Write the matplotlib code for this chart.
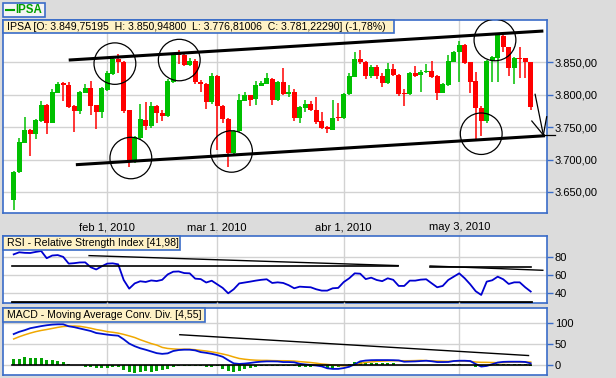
import matplotlib
matplotlib.use("Agg")
import matplotlib.pyplot as plt
from matplotlib.patches import Ellipse, Rectangle
from matplotlib.ticker import FuncFormatter
import pandas as pd

plt.rcParams['font.family'] = ['Liberation Sans', 'DejaVu Sans']

W, H = 616, 378
BG = "#dcdcdc"
BLUE = "#3a6cc8"
GRID = "#d2d2d2"
LABEL_BG = "#fff2c6"

# trading days jan 7 - may 20 2010 (good friday closed)
dates = pd.bdate_range("2010-01-07", "2010-05-20", freq="C", holidays=["2010-04-02"])

opens = [3637.6, 3680.0, 3726.0, 3745.6, 3739.4, 3760.0, 3784.0, 3757.0, 3803.0, 3817.6,
         3815.0, 3782.6, 3775.0, 3803.0, 3810.4, 3783.6, 3773.9, 3808.0, 3832.5, 3855.0,
         3851.0, 3776.4, 3696.7, 3733.7, 3761.0, 3752.3, 3782.6, 3771.3, 3767.7, 3820.0,
         3862.0, 3860.8, 3845.4, 3852.0, 3820.0, 3816.6, 3788.3, 3829.4, 3783.0, 3762.0,
         3709.6, 3744.0, 3790.8, 3799.0, 3793.0, 3814.0, 3816.6, 3825.0, 3791.9, 3820.2,
         3800.6, 3804.7, 3764.6, 3780.0, 3785.7, 3776.4, 3759.5, 3750.0, 3746.0, 3764.6,
         3763.5, 3801.0, 3828.0, 3855.0, 3850.0, 3829.4, 3842.8, 3829.0, 3817.6, 3839.2,
         3830.5, 3803.0, 3800.5, 3833.0, 3830.4, 3834.5, 3836.5, 3828.8, 3803.0, 3815.0,
         3851.0, 3865.5, 3877.0, 3850.0, 3821.0, 3780.0, 3759.0, 3852.6, 3857.0, 3891.0,
         3873.0, 3840.7, 3857.0, 3856.0, 3849.75]
highs = [3683.0, 3732.7, 3765.0, 3746.5, 3762.0, 3790.3, 3785.0, 3808.3, 3820.0, 3819.0,
         3820.0, 3784.0, 3806.0, 3816.0, 3821.2, 3784.5, 3812.0, 3836.0, 3859.8, 3862.9,
         3852.0, 3777.0, 3737.0, 3785.7, 3789.3, 3789.0, 3784.0, 3777.0, 3823.8, 3863.0,
         3869.0, 3864.0, 3857.0, 3854.6, 3822.0, 3818.0, 3834.0, 3830.0, 3784.0, 3764.0,
         3746.0, 3800.6, 3804.7, 3800.0, 3821.7, 3821.7, 3833.0, 3826.0, 3821.0, 3841.8,
         3815.0, 3808.3, 3783.0, 3791.9, 3791.0, 3797.0, 3773.9, 3752.0, 3791.9, 3787.8,
         3803.0, 3834.0, 3866.5, 3869.0, 3852.0, 3846.4, 3846.0, 3833.0, 3848.5, 3848.0,
         3832.0, 3808.6, 3834.5, 3844.8, 3838.0, 3847.0, 3852.0, 3830.0, 3818.0, 3861.4,
         3867.6, 3883.0, 3877.5, 3850.5, 3834.5, 3782.0, 3854.0, 3860.0, 3893.0, 3892.0,
         3874.0, 3858.0, 3873.0, 3857.0, 3850.95]
lows = [3622.0, 3679.0, 3725.0, 3706.0, 3732.2, 3758.0, 3739.4, 3756.0, 3802.0, 3790.8,
        3779.0, 3743.0, 3771.0, 3802.0, 3768.0, 3746.6, 3763.6, 3806.0, 3830.0, 3833.0,
        3772.3, 3689.0, 3694.0, 3732.0, 3745.6, 3748.0, 3757.0, 3760.0, 3766.0, 3818.0,
        3847.0, 3845.0, 3845.0, 3816.6, 3804.7, 3778.0, 3786.0, 3714.7, 3757.0, 3689.0,
        3708.0, 3743.0, 3790.0, 3782.6, 3784.0, 3813.0, 3816.0, 3784.0, 3790.0, 3800.0,
        3797.0, 3760.0, 3757.0, 3774.0, 3775.0, 3754.8, 3747.0, 3741.5, 3745.0, 3760.0,
        3762.0, 3800.0, 3827.0, 3847.0, 3825.0, 3826.0, 3824.0, 3812.4, 3816.0, 3829.0,
        3798.6, 3782.8, 3799.0, 3828.0, 3803.5, 3834.0, 3826.0, 3792.6, 3802.0, 3814.0,
        3850.0, 3820.0, 3848.0, 3803.0, 3732.0, 3736.0, 3757.0, 3820.0, 3820.0, 3866.5,
        3828.8, 3816.0, 3826.0, 3826.0, 3776.81]
closes = [3680.2, 3726.5, 3745.6, 3739.4, 3761.0, 3784.0, 3757.0, 3804.2, 3816.6, 3815.0,
          3781.6, 3775.4, 3804.7, 3810.4, 3782.6, 3773.9, 3809.9, 3833.0, 3854.6, 3851.0,
          3775.4, 3696.7, 3735.3, 3762.0, 3752.3, 3782.6, 3771.3, 3767.7, 3821.7, 3860.8,
          3860.8, 3845.4, 3852.0, 3820.2, 3816.0, 3788.3, 3829.4, 3783.0, 3762.0, 3709.6,
          3744.0, 3791.9, 3799.0, 3792.0, 3815.0, 3818.6, 3825.3, 3791.9, 3820.2, 3800.6,
          3804.7, 3764.6, 3781.6, 3785.7, 3776.4, 3758.4, 3749.2, 3746.6, 3764.6, 3763.5,
          3801.0, 3829.0, 3855.0, 3850.0, 3829.4, 3842.8, 3829.0, 3817.6, 3839.2, 3830.5,
          3801.0, 3800.5, 3833.0, 3829.3, 3835.5, 3836.5, 3827.8, 3803.0, 3816.4, 3852.0,
          3866.5, 3876.9, 3849.5, 3820.0, 3779.7, 3759.0, 3852.6, 3858.0, 3891.4, 3873.0,
          3840.7, 3857.0, 3855.7, 3850.0, 3781.22]

rsi = [83.3, 85.6, 85.0, 84.8, 86.0, 87.0, 79.0, 82.0, 82.5, 80.5,
       73.0, 73.5, 74.3, 74.4, 69.0, 66.5, 70.0, 73.0, 73.3, 72.2,
       54.8, 45.2, 51.0, 53.4, 52.6, 54.3, 53.6, 55.0, 61.0, 64.0,
       64.3, 62.5, 62.2, 56.3, 55.8, 52.0, 54.0, 50.0, 46.0, 40.0,
       44.5, 51.0, 52.0, 53.0, 54.1, 55.0, 55.6, 51.5, 52.2, 51.5,
       49.0, 45.6, 47.4, 47.0, 46.7, 44.5, 43.0, 43.0, 45.6, 46.0,
       52.5, 56.7, 62.2, 61.8, 55.8, 57.4, 54.8, 53.5, 56.7, 55.0,
       48.2, 48.2, 54.1, 54.1, 55.2, 55.6, 51.1, 46.7, 48.2, 54.8,
       58.5, 62.2, 56.7, 50.0, 42.3, 38.2, 53.0, 54.5, 58.5, 55.6,
       50.4, 52.2, 52.2, 46.7, 41.98]

macd = [73.3, 78.6, 82.4, 87.0, 89.5, 92.0, 94.0, 95.5, 96.2, 96.2,
        91.6, 89.5, 86.5, 83.5, 80.5, 75.8, 74.0, 72.0, 70.6, 69.5,
        61.0, 51.0, 44.8, 40.0, 36.5, 32.5, 28.5, 26.8, 28.0, 33.5,
        35.8, 36.6, 36.6, 35.0, 31.0, 29.2, 27.0, 24.0, 20.0, 12.0,
        4.5, 3.2, 4.0, 5.5, 7.3, 8.5, 9.2, 9.2, 9.0, 7.6,
        7.6, 7.0, 3.5, 2.0, 0.8, -0.5, -2.5, -7.0, -8.5, -8.5,
        -6.5, -3.5, 2.5, 9.2, 11.2, 12.0, 12.2, 12.2, 12.2, 12.0,
        11.5, 8.4, 8.8, 9.2, 10.0, 10.7, 9.5, 7.6, 7.6, 7.8,
        10.0, 10.7, 10.7, 10.0, 3.0, -3.0, -1.5, 2.5, 6.5, 8.0,
        8.4, 8.4, 8.4, 7.8, 4.55]
signal = [61.8, 67.0, 71.5, 75.5, 79.0, 81.8, 84.0, 86.5, 89.0, 91.0,
          91.8, 92.2, 91.6, 89.5, 87.0, 84.0, 81.8, 79.0, 77.5, 75.5,
          72.5, 69.0, 65.2, 60.0, 55.5, 51.0, 47.5, 42.0, 39.5, 38.4,
          37.6, 37.8, 37.6, 36.6, 35.0, 33.5, 31.5, 29.2, 26.5, 23.5,
          19.5, 16.0, 14.2, 12.8, 12.0, 11.5, 11.5, 11.0, 10.7, 10.7,
          10.5, 9.9, 8.6, 7.6, 6.5, 5.0, 3.1, 2.0, 0.8, -0.5,
          -1.5, -0.5, 0.5, 4.6, 6.9, 8.0, 9.2, 9.8, 10.3, 10.7,
          10.7, 10.7, 10.7, 11.0, 11.5, 11.0, 10.3, 9.9, 9.5, 9.2,
          9.6, 9.9, 9.9, 9.2, 7.6, 7.0, 6.9, 6.5, 6.1, 6.5,
          7.0, 7.6, 7.6, 7.6, 7.6]
hist = [14.5, 15.3, 18.3, 16.8, 16.8, 16.0, 12.2, 12.2, 9.2, 7.6,
        3.1, 0.0, 0.0, -3.0, -3.8, -6.9, -6.9, -6.1, -3.8, -3.8,
        -9.9, -16.8, -18.3, -16.8, -13.7, -15.3, -13.7, -10.7, -7.6, -3.0,
        -0.5, -0.5, -0.5, -0.5, -0.5, -3.0, -3.8, -2.3, -9.0, -13.7,
        -15.3, -13.0, -9.2, -6.1, -4.6, -0.5, -0.5, -0.5, -0.5, -0.5,
        -0.5, -0.5, -3.0, -3.0, -3.0, -2.3, -4.6, -6.1, -6.1, -3.0,
        -2.0, 3.0, 6.9, 6.9, 6.1, 6.1, 6.1, 6.1, 6.1, 6.1,
        0.5, 0.5, 0.5, 0.5, 0.5, 0.5, 0.5, 0.0, 0.0, 1.0,
        3.0, 3.0, 1.5, 1.5, -3.0, -4.6, -1.5, 1.5, 3.0, 3.0,
        3.0, 3.0, 3.0, 3.0, -2.3]

tick_dates = ["2010-02-01", "2010-03-01", "2010-04-01", "2010-05-03"]
tick_labels = ["feb 1, 2010", "mar 1, 2010", "abr 1, 2010", "may 3, 2010"]
price_ticks = [3650, 3700, 3750, 3800, 3850]
rsi_ticks = [40, 60, 80]
macd_ticks = [0, 50, 100]

# hand-drawn annotations (x in trading-day index, y in panel units)
upper_channel = ([10.0, 96.3], [3853.5, 3898.3])
lower_channel = ([11.3, 96.6], [3692.0, 3736.7])
circle_centers = [(18.4, 3848.0), (21.3, 3702.3), (30.1, 3853.5),
                  (39.6, 3712.4), (87.5, 3884.4), (85.0, 3739.8)]
arrow_lines = [([94.8, 96.3], [3800.6, 3737.8]),
               ([94.2, 96.3], [3759.4, 3737.8]),
               ([96.9, 96.3], [3766.0, 3737.8]),
               ([96.3, 98.4], [3737.8, 3737.8])]
rsi_lines = [([-0.3, 69.9], [70.4, 70.4], 1.2),
             ([13.7, 69.9], [81.9, 70.8], 1.0),
             ([75.7, 94.1], [69.6, 69.6], 1.2),
             ([75.7, 96.2], [70.4, 65.6], 1.0),
             ([-0.3, 94.1], [30.4, 30.4], 2.0)]
macd_lines = [([-0.3, 94.1], [0, 0], 1.2),
              ([30.2, 93.6], [71.8, 22.9], 1.0)]

x = list(range(len(dates)))
tick_pos = list(dates.get_indexer(pd.to_datetime(tick_dates)))


def box(x0, y0, x1, y1):
    return [x0 / W, 1 - y1 / H, (x1 - x0) / W, (y1 - y0) / H]


def style(ax, yticks, ylim):
    ax.set_facecolor("white")
    ax.set_xlim(-2.0, 96.96)
    ax.set_ylim(*ylim)
    for s in ax.spines.values():
        s.set_color(BLUE)
        s.set_linewidth(1.2)
    ax.set_yticks(yticks)
    ax.yaxis.tick_right()
    ax.tick_params(axis="y", colors=BLUE, labelcolor="black", length=4,
                   width=1, labelsize=8, pad=1.5)
    ax.set_xticks(tick_pos)
    ax.grid(True, color=GRID, linewidth=1)
    ax.set_axisbelow(True)


def label(x0, y0, x1, y1, text, size=7.6):
    fig.add_artist(Rectangle((x0 / W, 1 - y1 / H), (x1 - x0) / W, (y1 - y0) / H,
                             transform=fig.transFigure, facecolor=LABEL_BG,
                             edgecolor=BLUE, linewidth=1.2, zorder=10))
    fig.text((x0 + 4) / W, 1 - (y0 + y1) / 2 / H, text, fontsize=size,
             va="center", ha="left", zorder=11)


fig = plt.figure(figsize=(W / 100, H / 100), dpi=100, facecolor=BG)

# ---- price panel
ax = fig.add_axes(box(2.7, 20, 547, 213.3))
style(ax, price_ticks, (3617.0, 3915.3))
ax.yaxis.set_major_formatter(FuncFormatter(
    lambda v, p: f"{v:,.2f}".replace(",", "X").replace(".", ",").replace("X", ".")))
ax.set_xticklabels(tick_labels, fontsize=8)
ax.tick_params(axis="x", colors=GRID, labelcolor="black", length=5, width=1, pad=1.5)

for i in x:
    o, h, l, c = opens[i], highs[i], lows[i], closes[i]
    col = "#00c000" if c >= o else "#ff0000"
    ax.vlines(i, l, h, color=col, linewidth=1.1, zorder=3)
    ax.bar(i, max(abs(c - o), 1.5), bottom=min(o, c), width=0.85,
           color=col, linewidth=0, zorder=4)

for xs, ys in (upper_channel, lower_channel):
    ax.plot(xs, ys, color="black", linewidth=2.2, zorder=6, solid_capstyle="butt")
for cx, cy in circle_centers:
    ax.add_patch(Ellipse((cx, cy), 7.6, 64.0, fill=False, edgecolor="black",
                         linewidth=0.9, zorder=7))
for xs, ys in arrow_lines:
    ax.plot(xs, ys, color="black", linewidth=0.9, zorder=7, clip_on=False)

# ---- RSI panel
ax2 = fig.add_axes(box(2.7, 236, 547, 303.3))
style(ax2, rsi_ticks, (28.9, 103.7))
ax2.set_xticklabels([])
ax2.tick_params(axis="x", colors=GRID, length=4, width=1, top=True, bottom=True)
ax2.plot(x, rsi, color="#0000d0", linewidth=1.3, zorder=4)
for xs, ys, lw in rsi_lines:
    ax2.plot(xs, ys, color="black", linewidth=lw, zorder=5)

# ---- MACD panel
ax3 = fig.add_axes(box(2.7, 308.3, 547, 375))
style(ax3, macd_ticks, (-22.8, 133.8))
ax3.set_xticklabels([])
ax3.tick_params(axis="x", colors=GRID, length=4, width=1, top=True, bottom=False)
ax3.bar(x, hist, width=0.6, color="#00a000", linewidth=0, zorder=3)
ax3.plot(x, signal, color="#f0a800", linewidth=1.1, zorder=4)
ax3.plot(x, macd, color="#0010d0", linewidth=1.3, zorder=5)
for xs, ys, lw in macd_lines:
    ax3.plot(xs, ys, color="black", linewidth=lw, zorder=6)

# ---- labels
fig.add_artist(Rectangle((2.7 / W, 1 - 16.7 / H), 42.3 / W, 14 / H,
                         transform=fig.transFigure, facecolor="#f4f4f4",
                         edgecolor=BLUE, linewidth=1.2, zorder=10))
fig.add_artist(plt.Line2D([5.5 / W, 14 / W], [1 - 9.7 / H] * 2,
                          transform=fig.transFigure, color="#00a000", linewidth=1.5, zorder=11))
fig.text(15 / W, 1 - 9.9 / H, "IPSA", color="#00a000", fontsize=8.3,
         fontweight="bold", va="center", ha="left", zorder=11)

label(2.7, 20, 394, 33.3,
      "IPSA [O: 3.849,75195  H: 3.850,94800  L: 3.776,81006  C: 3.781,22290] (-1,78%)", 7.6)
label(2.7, 236, 180, 250, "RSI - Relative Strength Index [41,98]")
label(2.7, 308.3, 205, 322, "MACD - Moving Average Conv. Div. [4,55]")

fig.savefig("out.png", dpi=100, facecolor=BG)
